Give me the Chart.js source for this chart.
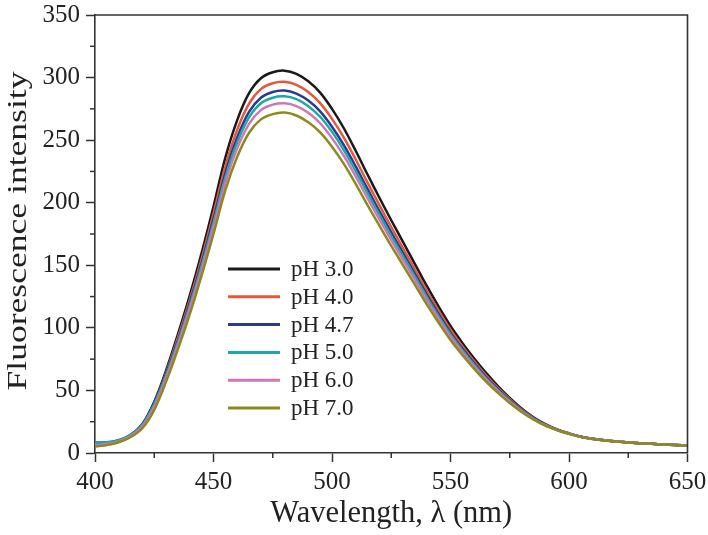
<!DOCTYPE html>
<html>
<head>
<meta charset="utf-8">
<script src="https://cdn.jsdelivr.net/npm/chart.js@4.4.1/dist/chart.umd.min.js"></script>
<style>
  html, body { margin: 0; padding: 0; background: #ffffff; }
  #wrap { width: 708px; height: 535px; }
</style>
</head>
<body>
<div id="wrap"><canvas id="spectra-chart" width="708" height="535"></canvas></div>
<script>
const wavelengths = [
  400, 405, 410, 415, 420, 425, 430, 435, 440, 445,
  450, 455, 460, 465, 470, 475, 480, 485, 490, 495,
  500, 505, 510, 515, 520, 525, 530, 535, 540, 545,
  550, 555, 560, 565, 570, 575, 580, 585, 590, 595,
  600, 605, 610, 615, 620, 625, 630, 635, 640, 645, 650
];

const seriesLabels = ["pH 3.0", "pH 4.0", "pH 4.7", "pH 5.0", "pH 6.0", "pH 7.0"];
const seriesColors = ["#1a1a1a", "#e8573a", "#2b3a8f", "#1aa9a6", "#d274b8", "#8c8a1e"];

const ph30 = [
  7.0, 7.6, 9.6, 14, 23, 41, 66, 95, 126, 160,
  197, 236, 266, 287.5, 299.5, 304.3, 305.5, 303, 297, 288,
  275, 259.5, 241.5, 222.5, 204, 186, 168.5, 151, 133.5, 117,
  101.5, 88, 75.5, 64, 53.5, 44, 35.5, 28.5, 23, 18.8,
  15.7, 13, 11.3, 10.1, 9.2, 8.4, 7.8, 7.3, 6.8, 6.4, 6.0
];
const ph40 = [
  5.6, 6.5, 9.0, 13.6, 22.3, 39.8, 64.1, 92.2, 122.3, 155.4,
  191.3, 229, 258.3, 279.2, 290.8, 295.5, 296.6, 294.2, 288.4, 279.6,
  267, 252, 234.5, 216, 198.1, 180.6, 163.6, 146.6, 129.6, 113.6,
  98.5, 85.4, 73.3, 62.1, 52, 43, 34.7, 28, 22.6, 18.6,
  15.6, 13, 11.3, 10.1, 9.2, 8.4, 7.8, 7.3, 6.8, 6.4, 6.0
];
const ph47 = [
  8.3, 8.6, 10.3, 14.6, 23.2, 40, 63.5, 90, 120, 152,
  187, 223.7, 252.2, 272.6, 283.9, 288.5, 289.6, 287.2, 281.6, 273,
  260.7, 246, 229, 211, 193.4, 176.3, 159.7, 143.1, 126.6, 110.9,
  96.2, 83.4, 71.6, 60.7, 51, 42.2, 34.2, 27.7, 22.4, 18.5,
  15.5, 13, 11.3, 10.1, 9.2, 8.4, 7.8, 7.3, 6.8, 6.4, 6.0
];
const ph50 = [
  8.3, 8.5, 10.1, 14.3, 22.6, 39, 62, 88.5, 118, 149.5,
  184, 220.2, 248.2, 268.2, 279.5, 283.9, 285, 282.7, 277.1, 268.7,
  256.6, 242.1, 225.3, 207.6, 190.3, 173.5, 157.2, 140.9, 124.6, 109.2,
  94.7, 82.1, 70.4, 59.7, 50.2, 41.6, 33.8, 27.4, 22.2, 18.4,
  15.4, 12.9, 11.2, 10.1, 9.2, 8.4, 7.8, 7.3, 6.8, 6.4, 6.0
];
const ph60 = [
  6.5, 7.2, 9.3, 13.5, 21.3, 37, 60, 86, 115.3, 146.4,
  180.3, 216, 243.4, 263, 274, 278.4, 279.5, 277.2, 271.8, 263.5,
  251.6, 237.4, 221, 203.6, 186.7, 170.2, 154.2, 138.2, 122.2, 107.1,
  92.9, 80.5, 69.1, 58.6, 49.3, 40.9, 33.4, 27.1, 22, 18.3,
  15.4, 12.9, 11.2, 10.1, 9.2, 8.4, 7.8, 7.3, 6.8, 6.4, 6.0
];
const ph70 = [
  5.3, 6.3, 8.6, 12.6, 19.8, 34.5, 57, 83, 111, 142,
  175, 210, 236.7, 255.9, 266.6, 270.8, 272, 269.7, 264.3, 256.3,
  244.8, 231, 215, 198, 181.6, 165.5, 150, 134.4, 118.8, 104.1,
  90.3, 78.3, 67.2, 57, 48, 40, 32.8, 26.8, 21.8, 18.2,
  15.3, 12.9, 11.2, 10, 9.1, 8.4, 7.8, 7.3, 6.8, 6.4, 6.0
];

const seriesValues = [ph30, ph40, ph47, ph50, ph60, ph70];

const xTicks = [400, 450, 500, 550, 600, 650];
const xMinorTicks = [425, 475, 525, 575, 625];
const yTicks = [0, 50, 100, 150, 200, 250, 300, 350];
const yMinorTicks = [25, 75, 125, 175, 225, 275, 325];

const axisColor = "#333333";
const textColor = "#222222";
const serifFont = "'Liberation Serif', 'DejaVu Serif', serif";

function buildDatasets() {
  return seriesLabels.map(function (label, index) {
    return {
      label: label,
      data: wavelengths.map(function (wl, i) {
        return { x: wl, y: seriesValues[index][i] };
      }),
      borderColor: seriesColors[index],
      backgroundColor: seriesColors[index],
      borderWidth: 2.5,
      pointRadius: 0,
      tension: 0.35,
      fill: false,
    };
  }).reverse();
}

// minor ticks, top/right frame, y title and the in-plot legend
const framePlugin = {
  id: "frame",
  afterDraw: function (chart) {
    const ctx = chart.ctx;
    const area = chart.chartArea;
    const xs = chart.scales.x;
    const ys = chart.scales.y;

    ctx.save();
    ctx.strokeStyle = axisColor;
    ctx.lineWidth = 1.6;
    ctx.beginPath();
    ctx.moveTo(area.left, area.top);
    ctx.lineTo(area.right, area.top);
    ctx.lineTo(area.right, area.bottom);
    ctx.stroke();

    ctx.lineWidth = 1.5;
    xMinorTicks.forEach(function (v) {
      const px = xs.getPixelForValue(v);
      ctx.beginPath();
      ctx.moveTo(px, area.bottom);
      ctx.lineTo(px, area.bottom + 5);
      ctx.stroke();
    });
    yMinorTicks.forEach(function (v) {
      const py = ys.getPixelForValue(v);
      ctx.beginPath();
      ctx.moveTo(area.left, py);
      ctx.lineTo(area.left - 5, py);
      ctx.stroke();
    });

    // y title, a bit stretched along its length like the original
    ctx.fillStyle = textColor;
    ctx.font = "28px " + serifFont;
    ctx.textAlign = "center";
    ctx.textBaseline = "middle";
    ctx.translate(19, (area.top + area.bottom) / 2 - 3);
    ctx.rotate(-Math.PI / 2);
    ctx.scale(1.27, 1);
    ctx.fillText("Fluorescence intensity", 0, 0);
    ctx.setTransform(1, 0, 0, 1, 0, 0);

    // legend
    const lineStart = area.left + 133;
    const lineEnd = area.left + 185;
    let rowY = area.top + 254;
    ctx.font = "23px " + serifFont;
    ctx.textAlign = "left";
    ctx.textBaseline = "middle";
    seriesLabels.forEach(function (label, index) {
      ctx.strokeStyle = seriesColors[index];
      ctx.lineWidth = 3;
      ctx.beginPath();
      ctx.moveTo(lineStart, rowY);
      ctx.lineTo(lineEnd, rowY);
      ctx.stroke();
      ctx.fillText(label, lineEnd + 11, rowY + 1);
      rowY += 27.8;
    });
    ctx.restore();
  },
};

new Chart(document.getElementById("spectra-chart"), {
  type: "line",
  data: {
    datasets: buildDatasets(),
  },
  options: {
    responsive: false,
    animation: false,
    layout: {
      padding: { top: 15, right: 20.5, left: 0, bottom: 0 },
    },
    plugins: {
      legend: { display: false },
      tooltip: { enabled: false },
    },
    scales: {
      x: {
        type: "linear",
        min: 400,
        max: 650,
        afterBuildTicks: function (scale) {
          scale.ticks = xTicks.map(function (v) { return { value: v }; });
        },
        afterFit: function (scale) {
          scale.height = 82;
          scale.paddingLeft = 0;
          scale.paddingRight = 0;
        },
        border: { display: true, color: axisColor, width: 1.6 },
        grid: {
          drawOnChartArea: false,
          drawTicks: true,
          tickLength: 9,
          tickColor: axisColor,
          tickWidth: 1.5,
        },
        ticks: {
          color: textColor,
          padding: 5,
          maxRotation: 0,
          font: { family: serifFont, size: 25 },
        },
        title: {
          display: true,
          text: "Wavelength, λ (nm)",
          color: textColor,
          font: { family: serifFont, size: 30.5 },
          padding: { top: 0, bottom: 3 },
        },
      },
      y: {
        type: "linear",
        min: 0,
        max: 350,
        afterBuildTicks: function (scale) {
          scale.ticks = yTicks.map(function (v) { return { value: v }; });
        },
        afterFit: function (scale) {
          scale.width = 95;
          scale.paddingTop = 0;
          scale.paddingBottom = 0;
        },
        border: { display: true, color: axisColor, width: 1.6 },
        grid: {
          drawOnChartArea: false,
          drawTicks: true,
          tickLength: 9,
          tickColor: axisColor,
          tickWidth: 1.5,
        },
        ticks: {
          color: textColor,
          padding: 6,
          font: { family: serifFont, size: 25 },
        },
        title: {
          display: false,
        },
      },
    },
  },
  plugins: [framePlugin],
});
</script>
</body>
</html>
